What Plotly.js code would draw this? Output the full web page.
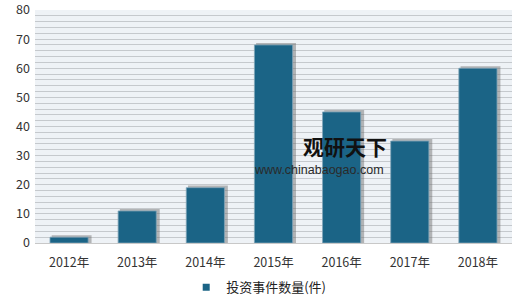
<!DOCTYPE html>
<html>
<head>
<meta charset="utf-8">
<script src="https://cdn.plot.ly/plotly-3.0.1.min.js"></script>
<style>html,body{margin:0;padding:0;background:#fff;}#chart{width:520px;height:301px;}</style>
</head>
<body>
<div id="chart"></div>
<script>
var categories = ["2012年", "2013年", "2014年", "2015年", "2016年", "2017年", "2018年"];
var investCounts = [2, 11, 19, 68, 45, 35, 60];
var seriesName = "投资事件数量(件)";
var yTicks = [0, 10, 20, 30, 40, 50, 60, 70, 80];

var shadowVals = investCounts.map(function (v) { return v + 0.7; });

var font = "'Noto Sans CJK SC', 'Noto Sans', sans-serif";

var traces = [
  {
    type: "bar", x: categories, y: shadowVals,
    width: 0.585, offset: -0.255,
    marker: { color: "rgba(105,105,105,0.45)", line: { width: 0 } },
    showlegend: false, hoverinfo: "skip"
  },
  {
    type: "bar", x: categories, y: investCounts, name: seriesName,
    width: 0.56, offset: -0.28,
    marker: { color: "#1b6486", line: { color: "#7fa3b8", width: 0.8 } },
    showlegend: false
  },
  {
    type: "scatter", mode: "markers", x: [categories[0]], y: [null],
    name: seriesName,
    marker: { symbol: "square", size: 7, color: "#1b6486" },
    showlegend: true, hoverinfo: "skip"
  }
];

var layout = {
  width: 520, height: 301,
  margin: { l: 35, r: 8, t: 10, b: 58, autoexpand: false },
  paper_bgcolor: "#ffffff",
  plot_bgcolor: "#eef2f6",
  barmode: "overlay",
  font: { family: font, size: 12, color: "#333333" },
  xaxis: {
    type: "category",
    showgrid: false, showline: true, linecolor: "#c8c8c8", linewidth: 1,
    ticks: "", tickfont: { size: 12.5, color: "#333333" },
    ticklabelstandoff: 8,
    fixedrange: true
  },
  yaxis: {
    range: [0, 80], tickvals: yTicks, ticks: "",
    showgrid: true, gridcolor: "#c5c9cd", gridwidth: 1,
    minor: { dtick: 2, showgrid: true, gridcolor: "#c5c9cd", gridwidth: 1 },
    zeroline: false, showline: false,
    tickfont: { size: 12.5, color: "#333333" },
    ticklabelstandoff: 4,
    ticklabeloverflow: "allow",
    fixedrange: true
  },
  legend: {
    orientation: "h", x: 0.317, xanchor: "left", y: -0.19, yanchor: "middle",
    font: { size: 13, color: "#222222" },
    bgcolor: "rgba(255,255,255,0)", borderwidth: 0
  },
  annotations: [
    {
      xref: "paper", yref: "paper", x: 0.65, y: 0.415, xanchor: "center", yanchor: "middle",
      text: "<b>观研天下</b>", showarrow: false,
      font: { family: font, size: 21, color: "#111111" }
    },
    {
      xref: "paper", yref: "paper", x: 0.595, y: 0.313, xanchor: "center", yanchor: "middle",
      text: "www.chinabaogao.com", showarrow: false,
      font: { family: "'Liberation Sans', Arial, sans-serif", size: 12.5, color: "#2a2a2a" }
    }
  ]
};

Plotly.newPlot("chart", traces, layout, { displayModeBar: false, staticPlot: true });
</script>
</body>
</html>
